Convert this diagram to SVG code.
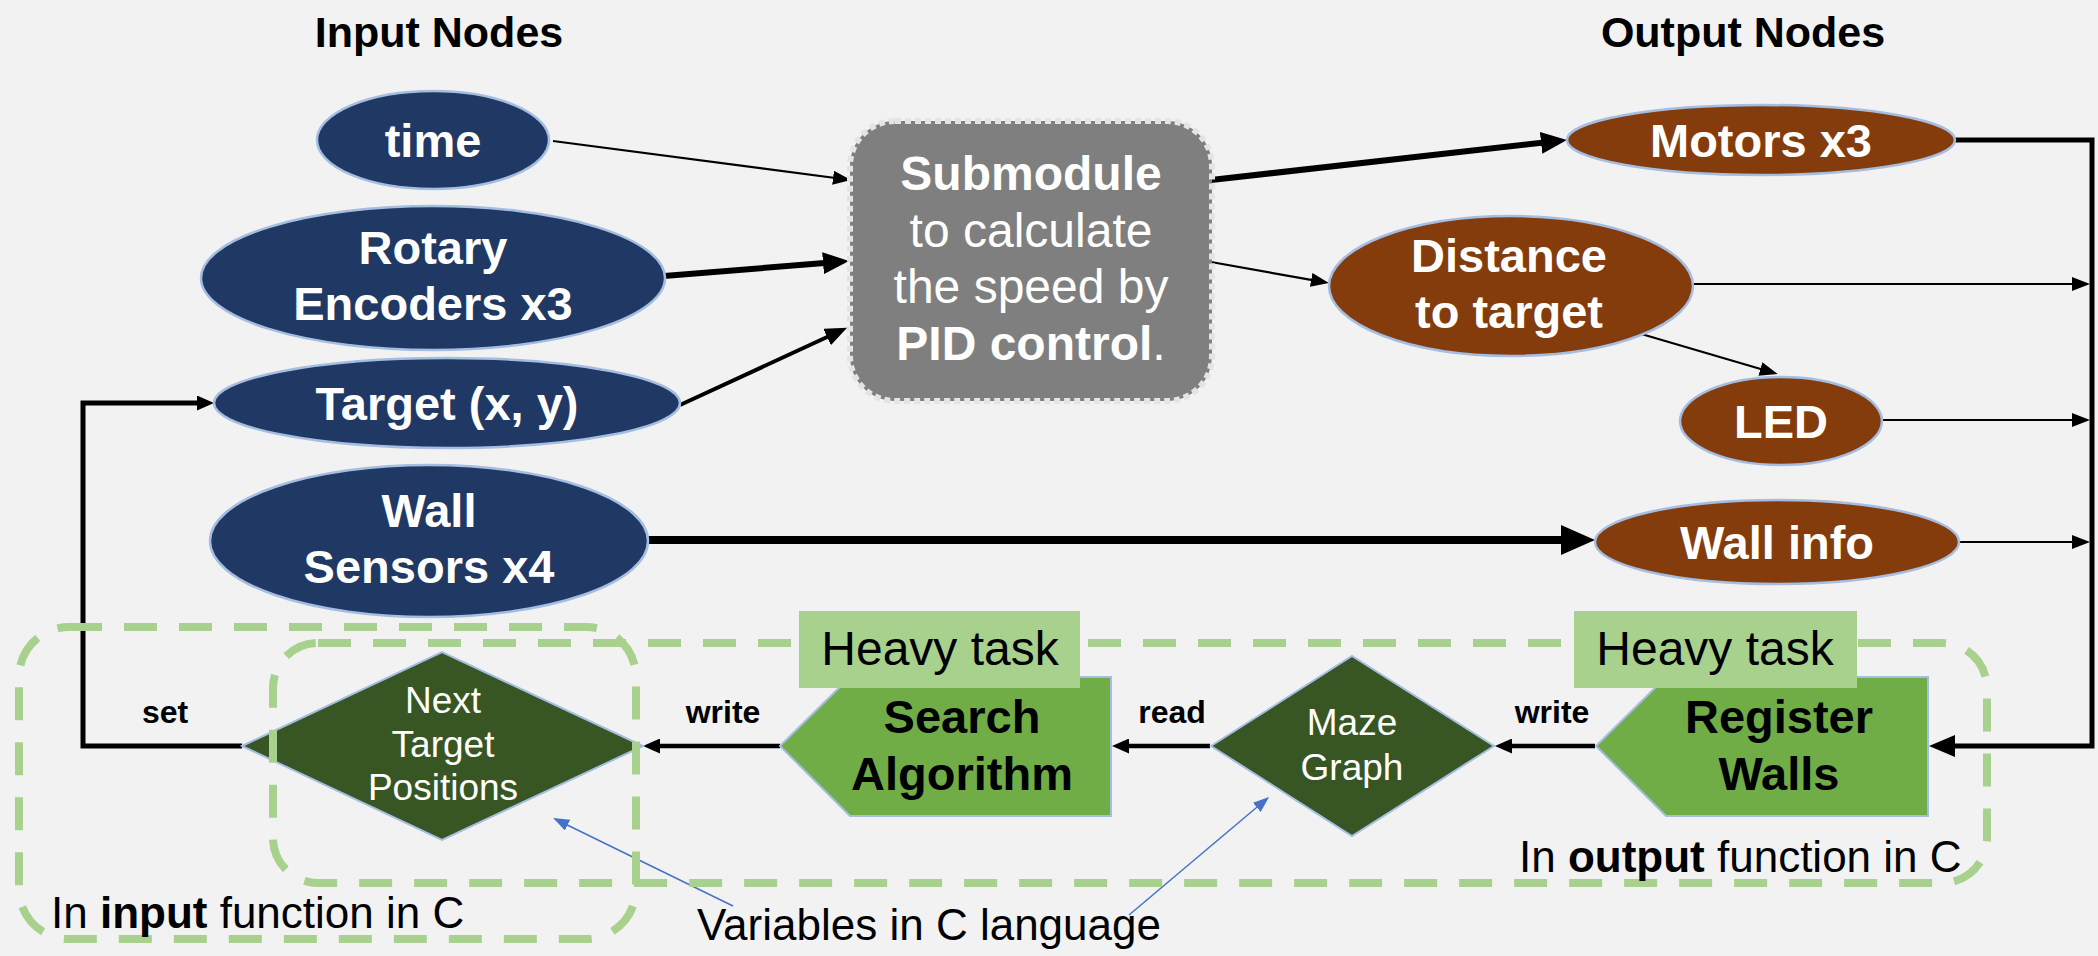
<svg xmlns="http://www.w3.org/2000/svg" width="2098" height="956" viewBox="0 0 2098 956">
  <defs>
    <style>
      .bg { fill: #f2f2f2; }
      .in { fill: #203864; stroke: #a4bde0; stroke-width: 2.5; }
      .out { fill: #843c0c; stroke: #a4bde0; stroke-width: 2.5; }
      .var { fill: #375623; stroke: #a4bde0; stroke-width: 2; }
      .task { fill: #70ad47; stroke: #a4bde0; stroke-width: 2; }
      .tag { fill: #a9d18e; }
      .sub { fill: #7f7f7f; stroke: #e4e4e4; stroke-width: 6; stroke-dasharray: 6 4; }
      .zone { fill: none; stroke: #a9d18e; stroke-width: 8; stroke-dasharray: 33 22; }
      .wire { fill: none; stroke: #000; stroke-linejoin: miter; }
      .note { fill: none; stroke: #4472c4; stroke-width: 1.5; }
      text { font-family: "Liberation Sans", Arial, sans-serif; text-anchor: middle; }
      text.start { text-anchor: start; }
      .lbl { font-size: 47px; font-weight: bold; fill: #fff; }
      .head { font-size: 43px; font-weight: bold; fill: #000; }
      .subt { font-size: 48px; fill: #fff; }
      .vt { font-size: 37px; fill: #fff; }
      .tt { font-size: 47px; font-weight: bold; fill: #000; }
      .heavy { font-size: 48px; fill: #000; }
      .act { font-size: 32px; font-weight: bold; fill: #000; }
      .cap { font-size: 44px; fill: #000; }
    </style>
    <marker id="ah-s" markerUnits="userSpaceOnUse" viewBox="0 0 18 14" markerWidth="18" markerHeight="14" refX="10" refY="7" orient="auto">
      <path d="M0,0 L18,7 L0,14 Z" fill="#000"/>
    </marker>
    <marker id="ah-m" markerUnits="userSpaceOnUse" viewBox="0 0 22 18" markerWidth="22" markerHeight="18" refX="12" refY="9" orient="auto">
      <path d="M0,0 L22,9 L0,18 Z" fill="#000"/>
    </marker>
    <marker id="ah-l" markerUnits="userSpaceOnUse" viewBox="0 0 26 22" markerWidth="26" markerHeight="22" refX="14" refY="11" orient="auto">
      <path d="M0,0 L26,11 L0,22 Z" fill="#000"/>
    </marker>
    <marker id="ah-xl" markerUnits="userSpaceOnUse" viewBox="0 0 34 30" markerWidth="34" markerHeight="30" refX="18" refY="15" orient="auto">
      <path d="M0,0 L34,15 L0,30 Z" fill="#000"/>
    </marker>
    <marker id="ah-b" markerUnits="userSpaceOnUse" viewBox="0 0 17 15" markerWidth="17" markerHeight="15" refX="9" refY="7.5" orient="auto">
      <path d="M0,0 L17,7.5 L0,15 Z" fill="#000"/>
    </marker>
    <marker id="ah-blue" markerUnits="userSpaceOnUse" viewBox="0 0 16 12" markerWidth="16" markerHeight="12" refX="14" refY="6" orient="auto">
      <path d="M0,0 L16,6 L0,12 Z" fill="#4472c4"/>
    </marker>
  </defs>

  <rect class="bg" x="0" y="0" width="2098" height="956"/>

  <!-- column headings -->
  <text class="head" x="439" y="47">Input Nodes</text>
  <text class="head" x="1743" y="47">Output Nodes</text>

  <!-- all connectors -->
  <g id="connectors">
    <line class="wire" x1="553" y1="141" x2="843" y2="179" stroke-width="2.2" marker-end="url(#ah-s)"/>
    <line class="wire" x1="664" y1="276" x2="837" y2="262" stroke-width="6" marker-end="url(#ah-l)"/>
    <line class="wire" x1="680" y1="405" x2="838" y2="332" stroke-width="4" marker-end="url(#ah-m)"/>
    <line class="wire" x1="1211" y1="180" x2="1555" y2="141.3" stroke-width="6" marker-end="url(#ah-l)"/>
    <line class="wire" x1="1211" y1="262" x2="1321" y2="281.6" stroke-width="2.2" marker-end="url(#ah-s)"/>
    <line class="wire" x1="1638" y1="333" x2="1770" y2="371.8" stroke-width="2.2" marker-end="url(#ah-s)"/>
    <line class="wire" x1="648" y1="540" x2="1579" y2="540" stroke-width="8" marker-end="url(#ah-xl)"/>
    <!-- outputs into the feedback bus -->
    <line class="wire" x1="1692" y1="284" x2="2082" y2="284" stroke-width="2.2" marker-end="url(#ah-s)"/>
    <line class="wire" x1="1882" y1="420" x2="2082" y2="420" stroke-width="2.2" marker-end="url(#ah-s)"/>
    <line class="wire" x1="1958" y1="542" x2="2082" y2="542" stroke-width="2.2" marker-end="url(#ah-s)"/>
    <path class="wire" d="M1955,140 H2092 V746 H1941" stroke-width="5" marker-end="url(#ah-l)"/>
    <!-- C-side data flow -->
    <line class="wire" x1="1595" y1="746" x2="1503" y2="746" stroke-width="4.5" marker-end="url(#ah-b)"/>
    <line class="wire" x1="1210" y1="746" x2="1120" y2="746" stroke-width="4.5" marker-end="url(#ah-b)"/>
    <line class="wire" x1="780" y1="746" x2="651" y2="746" stroke-width="4.5" marker-end="url(#ah-b)"/>
    <path class="wire" d="M242,746 H83 V403 H206" stroke-width="5" marker-end="url(#ah-b)"/>
    <!-- pointers to the C variables -->
    <line class="note" x1="733" y1="906" x2="555" y2="819" marker-end="url(#ah-blue)"/>
    <line class="note" x1="1129" y1="915" x2="1267.5" y2="798.3" marker-end="url(#ah-blue)"/>
  </g>

  <!-- input nodes -->
  <g id="node-time">
    <ellipse class="in" cx="433" cy="140" rx="116" ry="49"/>
    <text class="lbl" x="433" y="157">time</text>
  </g>
  <g id="node-encoders">
    <ellipse class="in" cx="433" cy="278" rx="232" ry="72"/>
    <text class="lbl" x="433" y="264">Rotary</text>
    <text class="lbl" x="433" y="320">Encoders x3</text>
  </g>
  <g id="node-target">
    <ellipse class="in" cx="447" cy="403" rx="233" ry="45"/>
    <text class="lbl" x="447" y="420">Target (x, y)</text>
  </g>
  <g id="node-wall-sensors">
    <ellipse class="in" cx="429" cy="541" rx="219" ry="76"/>
    <text class="lbl" x="429" y="527">Wall</text>
    <text class="lbl" x="429" y="583">Sensors x4</text>
  </g>

  <!-- PID submodule -->
  <g id="node-submodule">
    <rect class="sub" x="850" y="121" width="362" height="280" rx="45"/>
    <text class="subt" x="1031" y="190" font-weight="bold">Submodule</text>
    <text class="subt" x="1031" y="247">to calculate</text>
    <text class="subt" x="1031" y="303">the speed by</text>
    <text class="subt" x="1031" y="360"><tspan font-weight="bold">PID control</tspan>.</text>
  </g>

  <!-- output nodes -->
  <g id="node-motors">
    <ellipse class="out" cx="1761" cy="140" rx="194" ry="35"/>
    <text class="lbl" x="1761" y="157">Motors x3</text>
  </g>
  <g id="node-distance">
    <ellipse class="out" cx="1511" cy="286" rx="182" ry="70"/>
    <text class="lbl" x="1509" y="272">Distance</text>
    <text class="lbl" x="1509" y="328">to target</text>
  </g>
  <g id="node-led">
    <ellipse class="out" cx="1781" cy="421" rx="101" ry="44"/>
    <text class="lbl" x="1781" y="438">LED</text>
  </g>
  <g id="node-wall-info">
    <ellipse class="out" cx="1777" cy="542" rx="182" ry="42"/>
    <text class="lbl" x="1777" y="559">Wall info</text>
  </g>

  <!-- C variables and tasks -->
  <g id="node-next-target">
    <polygon class="var" points="242,746 442,652 643,746 442,840"/>
  </g>
  <g id="node-maze-graph">
    <polygon class="var" points="1211,746 1352,656 1494,746 1352,836"/>
  </g>
  <g id="node-search">
    <polygon class="task" points="780,746 850,677 1111,677 1111,816 850,816"/>
  </g>
  <g id="node-register">
    <polygon class="task" points="1596,746 1666,677 1928,677 1928,816 1666,816"/>
  </g>

  <!-- function scopes -->
  <g id="zone-input">
    <rect class="zone" x="19" y="627" width="617" height="312" rx="50"/>
  </g>
  <g id="zone-output">
    <rect class="zone" x="273" y="643" width="1714" height="240" rx="45"/>
  </g>

  <g id="tag-search">
    <rect class="tag" x="799" y="611" width="281" height="77"/>
    <text class="heavy" x="940" y="665">Heavy task</text>
  </g>
  <g id="tag-register">
    <rect class="tag" x="1574" y="611" width="283" height="77"/>
    <text class="heavy" x="1715" y="665">Heavy task</text>
  </g>

  <!-- labels on top of shapes -->
  <g id="labels">
    <text class="vt" x="443" y="713">Next</text>
    <text class="vt" x="443" y="757">Target</text>
    <text class="vt" x="443" y="800">Positions</text>
    <text class="vt" x="1352" y="735">Maze</text>
    <text class="vt" x="1352" y="780">Graph</text>
    <text class="tt" x="962" y="733">Search</text>
    <text class="tt" x="962" y="790">Algorithm</text>
    <text class="tt" x="1779" y="733">Register</text>
    <text class="tt" x="1779" y="790">Walls</text>
    <text class="act" x="165" y="723">set</text>
    <text class="act" x="723" y="723">write</text>
    <text class="act" x="1172" y="723">read</text>
    <text class="act" x="1552" y="723">write</text>
    <text class="cap start" x="51" y="928">In <tspan font-weight="bold">input</tspan> function in C</text>
    <text class="cap start" x="1519" y="872">In <tspan font-weight="bold">output</tspan> function in C</text>
    <text class="cap" x="929" y="940">Variables in C language</text>
  </g>
</svg>
